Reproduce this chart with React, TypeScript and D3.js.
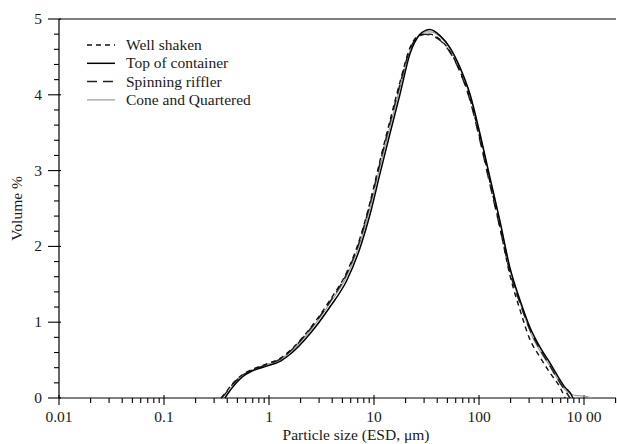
import * as d3 from "d3";

// particle size grid (µm) shared by all four runs
const sizes = [
  0.35, 0.38, 0.45, 0.56, 0.7, 0.95, 1.3, 1.6, 2.5, 3.8, 5.5, 7.4, 9.2, 11.4,
  14.2, 17.7, 22, 27.4, 31, 34, 42.5, 53, 66, 82, 102, 127, 158, 197, 246, 306,
  381, 475, 591, 660, 736, 785, 900, 1050, 1200,
];

const wellShaken = [
  0, 0.06, 0.19, 0.31, 0.38, 0.45, 0.53, 0.63, 0.93, 1.29, 1.66, 2.12, 2.59,
  3.13, 3.66, 4.17, 4.62, 4.79, 4.8, 4.8, 4.73, 4.57, 4.31, 3.95, 3.43, 2.85,
  2.26, 1.62, 1.16, 0.77, 0.54, 0.33, 0.14, 0, null, null, null, null, null,
];
const topOfContainer = [
  null, 0, 0.14, 0.28, 0.36, 0.42, 0.49, 0.58, 0.86, 1.2, 1.55, 1.99, 2.43,
  2.96, 3.49, 4.01, 4.54, 4.8, 4.85, 4.86, 4.78, 4.62, 4.36, 4.01, 3.49, 2.91,
  2.34, 1.72, 1.29, 0.93, 0.67, 0.46, 0.24, 0.14, 0.07, 0, null, null, null,
];
const spinningRiffler = [
  0, 0.05, 0.18, 0.3, 0.37, 0.44, 0.52, 0.62, 0.92, 1.27, 1.64, 2.1, 2.57,
  3.1, 3.63, 4.14, 4.6, 4.78, 4.8, 4.79, 4.72, 4.56, 4.3, 3.93, 3.4, 2.82,
  2.25, 1.66, 1.25, 0.9, 0.64, 0.42, 0.2, 0.1, 0, null, null, null, null,
];
const coneQuartered = [
  null, 0, 0.16, 0.3, 0.37, 0.44, 0.51, 0.61, 0.9, 1.25, 1.61, 2.06, 2.52,
  3.05, 3.58, 4.1, 4.58, 4.8, 4.83, 4.83, 4.77, 4.61, 4.35, 3.99, 3.47, 2.9,
  2.33, 1.7, 1.26, 0.88, 0.62, 0.42, 0.2, 0.11, 0.06, 0.04, 0.03, 0.02, 0,
];

const xTickValues = [0.01, 0.1, 1, 10, 100, 1000];
const xTickLabels = ["0.01", "0.1", "1", "10", "100", "10 00"];
const yTickValues = [0, 1, 2, 3, 4, 5];

const W = 617,
  H = 444;
const L = 59,
  R = 616,
  T = 19,
  B = 398;
const FONT = "'Liberation Serif', 'Times New Roman', serif";
const INK = "#1a1a1a";

const x = d3.scaleLog().domain([0.01, 1000]).range([L, 584]);
const y = d3.scaleLinear().domain([0, 5]).range([B, T]);
const xMax = x.invert(R);

const series = [
  { name: "Cone and Quartered", vals: coneQuartered, stroke: "#9a9a9a", width: 1.2, dash: null },
  { name: "Spinning riffler", vals: spinningRiffler, stroke: "#222", width: 1.5, dash: "10,6" },
  { name: "Well shaken", vals: wellShaken, stroke: "#111", width: 1.4, dash: "5,4" },
  { name: "Top of container", vals: topOfContainer, stroke: "#000", width: 1.5, dash: null },
];
const legendOrder = ["Well shaken", "Top of container", "Spinning riffler", "Cone and Quartered"];

export default function App() {
  const line = d3
    .line<[number, number | null]>()
    .defined((d) => d[1] != null)
    .x((d) => x(d[0]))
    .y((d) => y(d[1] as number))
    .curve(d3.curveMonotoneX);

  const xMinor = x
    .copy()
    .domain([0.01, xMax])
    .ticks()
    .filter((v) => !xTickValues.includes(v) && v <= xMax);
  const yMinor = d3.range(0, 5.01, 0.2).filter((v) => Math.abs(v - Math.round(v)) > 0.01);

  return (
    <svg
      width={W}
      height={H}
      style={{ position: "absolute", left: 0, top: 0, background: "#fff", fontFamily: FONT }}
    >
      {/* frame */}
      <line x1={L} x2={R} y1={T} y2={T} stroke="#555" strokeWidth={1.6} />
      <line x1={L} x2={L} y1={T} y2={B} stroke="#000" strokeWidth={1.2} />
      <line x1={L} x2={R} y1={B} y2={B} stroke="#000" strokeWidth={1.2} />

      {/* y ticks */}
      {yTickValues.map((v) => (
        <g key={"y" + v}>
          <line x1={L - 11} x2={L + 2} y1={y(v)} y2={y(v)} stroke="#000" strokeWidth={1.1} />
          <text x={L - 17} y={y(v) + 5} textAnchor="end" fontSize={15.5} fill={INK}>
            {v}
          </text>
        </g>
      ))}
      {yMinor.map((v) => (
        <line key={"ym" + v} x1={L - 5} x2={L} y1={y(v)} y2={y(v)} stroke="#000" strokeWidth={1.1} />
      ))}

      {/* x ticks */}
      {xTickValues.map((v, i) => (
        <g key={"x" + v}>
          <line x1={x(v)} x2={x(v)} y1={B - 3} y2={B + 7} stroke="#000" strokeWidth={1.1} />
          <text x={x(v)} y={B + 24} textAnchor="middle" fontSize={15.5} fill={INK}>
            {xTickLabels[i]}
          </text>
        </g>
      ))}
      {xMinor.map((v) => (
        <line key={"xm" + v} x1={x(v)} x2={x(v)} y1={B} y2={B + 5} stroke="#000" strokeWidth={1.1} />
      ))}

      {/* axis titles */}
      <text x={356} y={440} textAnchor="middle" fontSize={15.5} fill={INK}>
        Particle size (ESD, μm)
      </text>
      <text
        transform={`translate(22,${(T + B) / 2}) rotate(-90)`}
        textAnchor="middle"
        fontSize={15.5}
        fill={INK}
      >
        Volume %
      </text>

      {/* curves */}
      {series.map((s) => (
        <path
          key={s.name}
          d={line(sizes.map((d, i) => [d, s.vals[i]]) as [number, number | null][]) || ""}
          fill="none"
          stroke={s.stroke}
          strokeWidth={s.width}
          strokeDasharray={s.dash || undefined}
        />
      ))}

      {/* legend */}
      {legendOrder.map((name, i) => {
        const s = series.find((d) => d.name === name)!;
        const ly = 45 + i * 18.3;
        return (
          <g key={"lg" + name}>
            <line
              x1={87}
              x2={115}
              y1={ly}
              y2={ly}
              stroke={s.stroke}
              strokeWidth={s.width}
              strokeDasharray={s.dash || undefined}
            />
            <text x={126} y={ly + 5} fontSize={15.5} fill={INK}>
              {name}
            </text>
          </g>
        );
      })}
    </svg>
  );
}
